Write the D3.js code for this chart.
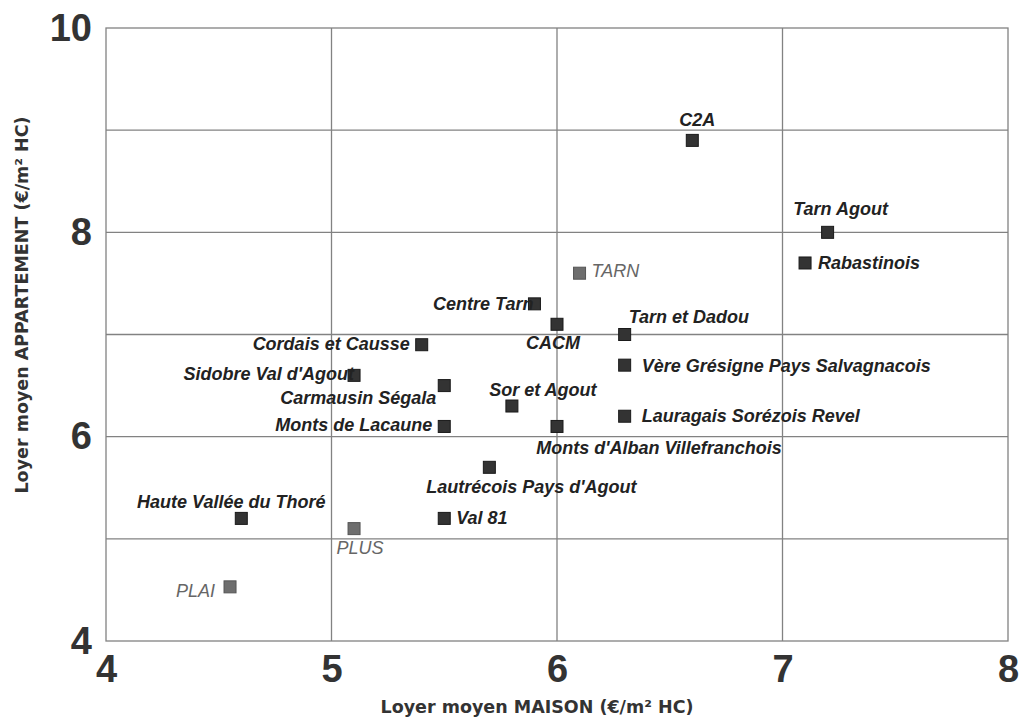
<!DOCTYPE html>
<html>
<head>
<meta charset="utf-8">
<script src="https://cdn.jsdelivr.net/npm/d3@7"></script>
<style>
  body { margin: 0; background: #fff; }
  text { font-family: "Liberation Sans", Arial, sans-serif; }
</style>
</head>
<body>
<div id="chart"></div>
<script>
// Data
const names = ["C2A", "Tarn Agout", "Rabastinois", "TARN", "Centre Tarn", "CACM", "Tarn et Dadou",
    "Cordais et Causse", "Vère Grésigne Pays Salvagnacois", "Sidobre Val d'Agout", "Carmausin Ségala",
    "Sor et Agout", "Lauragais Sorézois Revel", "Monts de Lacaune", "Monts d'Alban Villefranchois",
    "Lautrécois Pays d'Agout", "Haute Vallée du Thoré", "Val 81", "PLUS", "PLAI"];
const maison = [6.6, 7.2, 7.1, 6.1, 5.9, 6.0, 6.3, 5.4, 6.3, 5.1, 5.5, 5.8, 6.3, 5.5, 6.0, 5.7, 4.6, 5.5, 5.1, 4.55];
const appart = [8.9, 8.0, 7.7, 7.6, 7.3, 7.1, 7.0, 6.9, 6.7, 6.6, 6.5, 6.3, 6.2, 6.1, 6.1, 5.7, 5.2, 5.2, 5.1, 4.53];
const reference = ["TARN", "PLUS", "PLAI"]; // shown in grey
const xTicks = [4, 5, 6, 7, 8];
const yTicks = [4, 6, 8, 10];

// label placement around each marker: anchor, dx, dy
const labelPos = {
    "C2A": ["middle", 5, -14],
    "Tarn Agout": ["middle", 13, -17],
    "Rabastinois": ["start", 13, 6],
    "TARN": ["start", 12, 4],
    "Centre Tarn": ["end", -1, 6],
    "CACM": ["middle", -4, 25],
    "Tarn et Dadou": ["start", 4, -12],
    "Cordais et Causse": ["end", -12, 5],
    "Vère Grésigne Pays Salvagnacois": ["start", 17, 7],
    "Sidobre Val d'Agout": ["end", 0, 5],
    "Carmausin Ségala": ["end", -8, 18],
    "Sor et Agout": ["middle", 31, -10],
    "Lauragais Sorézois Revel": ["start", 17, 6],
    "Monts de Lacaune": ["end", -12, 5],
    "Monts d'Alban Villefranchois": ["middle", 102, 28],
    "Lautrécois Pays d'Agout": ["middle", 42, 26],
    "Haute Vallée du Thoré": ["middle", -10, -10],
    "Val 81": ["start", 12, 6],
    "PLUS": ["middle", 6, 25],
    "PLAI": ["end", -15, 10]
};

const width = 1021, height = 721;
const svg = d3.select("#chart").append("svg")
    .attr("width", width)
    .attr("height", height);

const x = d3.scaleLinear().domain([4, 8]).range([106, 1008]);
const y = d3.scaleLinear().domain([4, 10]).range([641, 28]);

const gridColor = "#828282";

// grid
svg.append("g").selectAll("line")
    .data(d3.range(5, 8))
    .enter().append("line")
    .attr("x1", d => x(d)).attr("x2", d => x(d))
    .attr("y1", y(10)).attr("y2", y(4))
    .attr("stroke", gridColor).attr("stroke-width", 1.3);
svg.append("g").selectAll("line")
    .data(d3.range(5, 10))
    .enter().append("line")
    .attr("x1", x(4)).attr("x2", x(8))
    .attr("y1", d => y(d)).attr("y2", d => y(d))
    .attr("stroke", gridColor).attr("stroke-width", 1.3);
svg.append("rect")
    .attr("x", x(4)).attr("y", y(10))
    .attr("width", x(8) - x(4)).attr("height", y(4) - y(10))
    .attr("fill", "none")
    .attr("stroke", gridColor).attr("stroke-width", 1.3);

// axes
const xAxis = svg.append("g")
    .attr("transform", `translate(0,${y(4)})`)
    .call(d3.axisBottom(x).tickValues(xTicks).tickSize(0).tickPadding(14).tickFormat(d3.format("d")));
const yAxis = svg.append("g")
    .attr("transform", `translate(${x(4)},0)`)
    .call(d3.axisLeft(y).tickValues(yTicks).tickSize(0).tickPadding(14).tickFormat(d3.format("d")));
[xAxis, yAxis].forEach(a => {
    a.select(".domain").remove();
    a.selectAll("text")
        .style("font-family", "'Liberation Sans', Arial, sans-serif")
        .style("font-size", "38px")
        .style("font-weight", "bold")
        .attr("fill", "#333");
});

// axis titles
svg.append("text")
    .attr("x", 537)
    .attr("y", 713)
    .attr("text-anchor", "middle")
    .style("font-family", "'DejaVu Sans', sans-serif")
    .style("font-size", "17.5px")
    .style("font-weight", "bold")
    .attr("fill", "#333")
    .text("Loyer moyen MAISON (€/m² HC)");
svg.append("text")
    .attr("transform", "translate(28,305) rotate(-90)")
    .attr("text-anchor", "middle")
    .style("font-family", "'DejaVu Sans', sans-serif")
    .style("font-size", "17.5px")
    .style("font-weight", "bold")
    .attr("fill", "#333")
    .text("Loyer moyen APPARTEMENT (€/m² HC)");

// points
const points = names.map((n, i) => ({ name: n, mx: maison[i], ay: appart[i], ref: reference.includes(n) }));
const size = 12;

svg.append("g").selectAll("rect")
    .data(points)
    .enter().append("rect")
    .attr("x", d => x(d.mx) - size / 2)
    .attr("y", d => y(d.ay) - size / 2)
    .attr("width", size)
    .attr("height", size)
    .attr("fill", d => d.ref ? "#6e6e6e" : "#333")
    .attr("stroke", d => d.ref ? "#555" : "#1a1a1a")
    .attr("stroke-width", 1);

svg.append("g").selectAll("text")
    .data(points)
    .enter().append("text")
    .attr("x", d => x(d.mx) + labelPos[d.name][1])
    .attr("y", d => y(d.ay) + labelPos[d.name][2])
    .attr("text-anchor", d => labelPos[d.name][0])
    .style("font-size", "18px")
    .style("font-style", "italic")
    .style("font-weight", d => d.ref ? "normal" : "bold")
    .attr("fill", d => d.ref ? "#666" : "#222")
    .text(d => d.name);
</script>
</body>
</html>
